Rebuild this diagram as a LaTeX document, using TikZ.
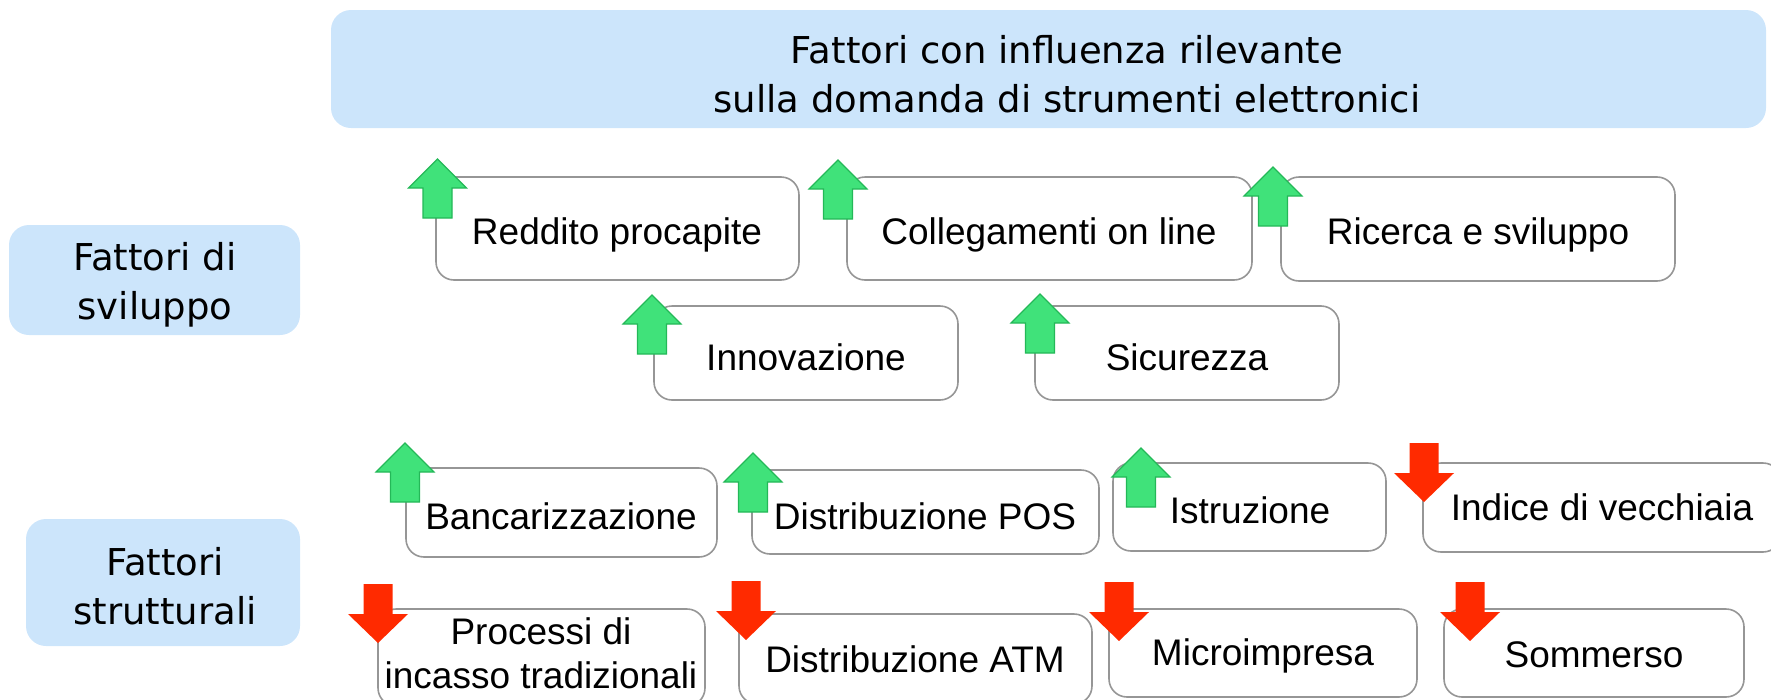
\documentclass[tikz,border=0pt]{standalone}
\usepackage{fontspec}
\setmainfont{Liberation Sans}
\newfontfamily\vfont{DejaVu Sans}
\definecolor{bannerblue}{RGB}{204,229,251}
\definecolor{upgreen}{RGB}{64,226,122}
\definecolor{upgreendark}{RGB}{36,184,88}
\definecolor{downred}{RGB}{255,42,0}
\definecolor{boxgray}{RGB}{150,150,150}
\tikzset{
  bluebox/.style={rectangle, rounded corners=20pt, fill=bannerblue, draw=none, align=center, inner sep=0pt,
    font=\vfont\fontsize{37}{49}\selectfont},
  factorbox/.style={rectangle, rounded corners=18pt, fill=white, draw=boxgray, line width=1.6pt, align=center, inner sep=0pt,
    font=\fontsize{37}{44}\selectfont},
  boxtext/.style={factorbox, draw=none, fill=none},
  bluetext/.style={bluebox, fill=none},
  uparrow/.pic={\path[fill=upgreen, draw=upgreendark, line width=1.2pt]
     (0,0) -- (29,29) -- (14.5,29) -- (14.5,59) -- (-14.5,59) -- (-14.5,29) -- (-29,29) -- cycle;},
  downarrow/.pic={\path[fill=downred]
     (0,59) -- (30,30) -- (14.5,30) -- (14.5,0) -- (-14.5,0) -- (-14.5,30) -- (-30,30) -- cycle;},
}
\newcommand{\mybox}[6]{%
  \node[#1, minimum width={#5-#3}, minimum height={#6-#4}] (#2) at ({(#3+#5)/2},{(#4+#6)/2}) {};}
\begin{document}
\begin{tikzpicture}[x=1pt, y=-1pt]
\useasboundingbox (0,0) rectangle (1771,699);
\begin{scope}
\clip (0,0) rectangle (1771,699);
% blue boxes
\mybox{bluebox}{banner}{331}{10}{1766}{128}
\node[bluetext] (bannertext) at (1067,74) {Fattori con influenza rilevante\\sulla domanda di strumenti elettronici};
\mybox{bluebox}{sviluppo}{9}{225}{300}{335}
\node[bluetext] (sviluppotext) at (155,285) {Fattori di\\sviluppo};
\mybox{bluebox}{strutturali}{26}{519}{300}{646}
\node[bluetext] (strutturalitext) at (165,586) {Fattori\\strutturali};
% factor boxes
\mybox{factorbox}{reddito}{436}{177}{799}{280}
\mybox{factorbox}{colleg}{847}{177}{1252}{280}
\mybox{factorbox}{ricerca}{1281}{177}{1675}{281}
\mybox{factorbox}{innov}{654}{306}{958}{400}
\mybox{factorbox}{sicur}{1035}{306}{1339}{400}
\mybox{factorbox}{banc}{406}{468}{717}{557}
\mybox{factorbox}{pos}{752}{470}{1099}{554}
\mybox{factorbox}{istr}{1113}{463}{1386}{551}
\mybox{factorbox}{indice}{1423}{463}{1781}{552}
\mybox{factorbox}{processi}{378}{609}{705}{706}
\mybox{factorbox}{atm}{739}{614}{1092}{704}
\mybox{factorbox}{micro}{1109}{609}{1417}{697}
\mybox{factorbox}{sommerso}{1444}{609}{1744}{697}
% texts
\node[boxtext] (t1) at (617,235) {Reddito procapite};
\node[boxtext] (t2) at (1049,235) {Collegamenti on line};
\node[boxtext] (t3) at (1478,235) {Ricerca e sviluppo};
\node[boxtext] (t4) at (806,357) {Innovazione};
\node[boxtext] (t5) at (1187,357) {Sicurezza};
\node[boxtext] (t6) at (561,516) {Bancarizzazione};
\node[boxtext] (t7) at (925,516) {Distribuzione POS};
\node[boxtext] (t8) at (1250,510) {Istruzione};
\node[boxtext] (t9) at (1602,507) {Indice di vecchiaia};
\node[boxtext] (t10) at (541,653) {Processi di\\incasso tradizionali};
\node[boxtext] (t11) at (915,659) {Distribuzione ATM};
\node[boxtext] (t12) at (1263,656) {Microimpresa};
\node[boxtext] (t13) at (1594,655) {Sommerso};
% up arrows
\pic at (437.5,159) {uparrow};
\pic at (838,160) {uparrow};
\pic at (1273,167) {uparrow};
\pic at (652,295) {uparrow};
\pic at (1040,294) {uparrow};
\pic at (405,443) {uparrow};
\pic at (753,453) {uparrow};
\pic at (1141,448) {uparrow};
% down arrows
\pic at (1424,443) {downarrow};
\pic at (378,584) {downarrow};
\pic at (746,581) {downarrow};
\pic at (1119,582) {downarrow};
\pic at (1470,582) {downarrow};
\end{scope}
\end{tikzpicture}
\end{document}
